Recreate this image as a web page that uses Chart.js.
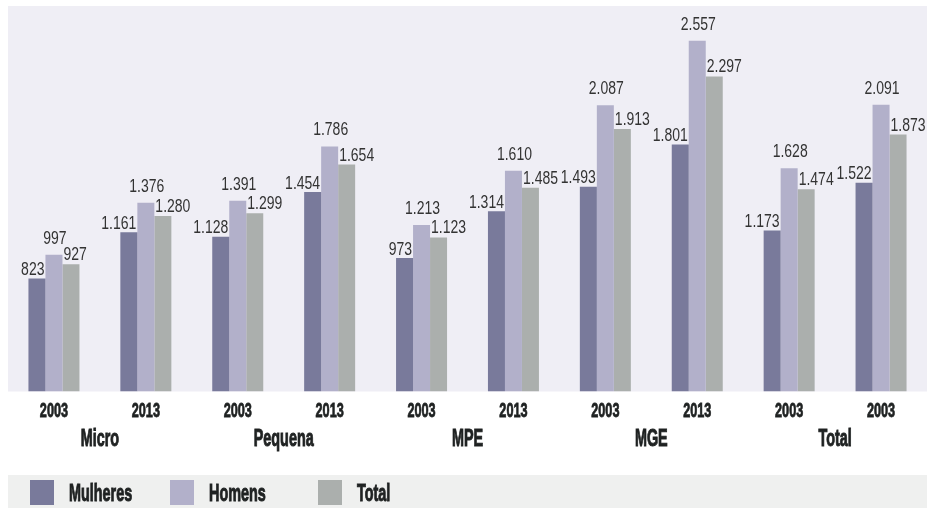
<!DOCTYPE html>
<html lang="pt">
<head>
<meta charset="utf-8">
<title>Rendimento por porte de empresa</title>
<script src="https://cdn.jsdelivr.net/npm/chart.js@4.4.1/dist/chart.umd.min.js"></script>
<style>
  html, body { margin: 0; padding: 0; background: #fff; }
  #wrap { width: 927px; height: 508px; position: relative; }
</style>
</head>
<body>
<div id="wrap"><canvas id="grafica"></canvas></div>
<script>
// ── Dados ────────────────────────────────────────────────────────────────────
const anos     = ['2003', '2013', '2003', '2013', '2003', '2013', '2003', '2013', '2003', '2003'];
const portes   = ['Micro', 'Pequena', 'MPE', 'MGE', 'Total'];
const mulheres = [823, 1161, 1128, 1454, 973, 1314, 1493, 1801, 1173, 1522];
const homens   = [997, 1376, 1391, 1786, 1213, 1610, 2087, 2557, 1628, 2091];
const total    = [927, 1280, 1299, 1654, 1123, 1485, 1913, 2297, 1474, 1873];

const CORES = { mulheres: '#797a9b', homens: '#b2b0ca', total: '#abafad' };
const FONTE = '"Liberation Sans", Arial, sans-serif';

function fmt(v) {
    return v.toString().replace(/\B(?=(\d{3})+(?!\d))/g, '.');
}

// texto comprimido na horizontal (a fonte original é bem condensada)
function texto(ctx, str, x, y, sx, align, grosso) {
    ctx.save();
    ctx.scale(sx, 1);
    ctx.textAlign = align;
    ctx.fillText(str, x / sx, y);
    if (grosso) {
        ctx.lineWidth = grosso;
        ctx.strokeStyle = ctx.fillStyle;
        ctx.strokeText(str, x / sx, y);
    }
    ctx.restore();
}

// ── Plugin: fundo, rótulos de valor, eixo e legenda ──────────────────────────
const desenhoExtra = {
    id: 'desenhoExtra',
    beforeDraw(chart) {
        const { ctx, chartArea } = chart;
        ctx.save();
        ctx.fillStyle = '#efeef5';
        ctx.fillRect(8, chartArea.top, chart.width - 8, chartArea.bottom - chartArea.top);
        ctx.fillStyle = '#eff0ef';
        ctx.fillRect(8, 475, chart.width - 8, 33);
        ctx.restore();
    },
    afterDatasetsDraw(chart) {
        const ctx = chart.ctx;
        ctx.save();
        ctx.font = `17.5px ${FONTE}`;
        ctx.fillStyle = '#333333';
        ctx.textBaseline = 'alphabetic';
        chart.data.datasets.forEach((ds, d) => {
            chart.getDatasetMeta(d).data.forEach((bar, i) => {
                const val = ds.data[i];
                const esq = bar.x - bar.width / 2;
                const dir = bar.x + bar.width / 2;
                if (d === 0) texto(ctx, fmt(val), dir - 1, bar.y - 3.5, 0.8, 'right');
                if (d === 1) texto(ctx, fmt(val), bar.x + 1, bar.y - 11, 0.8, 'center');
                if (d === 2) texto(ctx, fmt(val), esq + 1, bar.y - 4, 0.8, 'left');
            });
        });
        ctx.restore();
    },
    afterDraw(chart) {
        const ctx = chart.ctx;
        const x = chart.scales.x;
        ctx.save();
        ctx.fillStyle = '#1f2222';
        ctx.textBaseline = 'alphabetic';

        // anos
        ctx.font = `bold 19.5px ${FONTE}`;
        anos.forEach((a, i) => texto(ctx, a, x.getPixelForValue(i), 416.5, 0.65, 'center', 0.8));

        // porte, centrado entre os dois anos
        ctx.font = `bold 24px ${FONTE}`;
        portes.forEach((p, g) => {
            const cx = (x.getPixelForValue(2 * g) + x.getPixelForValue(2 * g + 1)) / 2;
            texto(ctx, p, cx, 446, 0.6, 'center', 1);
        });

        // legenda
        const posLegenda = [30, 170, 318];
        chart.data.datasets.forEach((ds, d) => {
            const lx = posLegenda[d];
            ctx.fillStyle = ds.backgroundColor;
            ctx.fillRect(lx, 480, 24, 25);
            ctx.fillStyle = '#1f2222';
            texto(ctx, ds.label, lx + 39, 500.5, 0.6, 'left', 1);
        });
        ctx.restore();
    }
};

// ── Gráfica ──────────────────────────────────────────────────────────────────
new Chart(document.getElementById('grafica'), {
    type: 'bar',
    data: {
        labels: anos,
        datasets: [
            { label: 'Mulheres', data: mulheres, backgroundColor: CORES.mulheres },
            { label: 'Homens',   data: homens,   backgroundColor: CORES.homens },
            { label: 'Total',    data: total,    backgroundColor: CORES.total },
        ]
    },
    options: {
        responsive: true,
        maintainAspectRatio: false,
        animation: false,
        layout: { padding: { left: 8, right: 0, top: 6, bottom: 116.5 } },
        plugins: {
            legend: { display: false },
            tooltip: { enabled: false },
        },
        datasets: {
            bar: { barPercentage: 1, categoryPercentage: 0.555 }
        },
        scales: {
            x: { display: false },
            y: { display: false, min: 0, max: 2810 }
        }
    },
    plugins: [desenhoExtra]
});
</script>
</body>
</html>
